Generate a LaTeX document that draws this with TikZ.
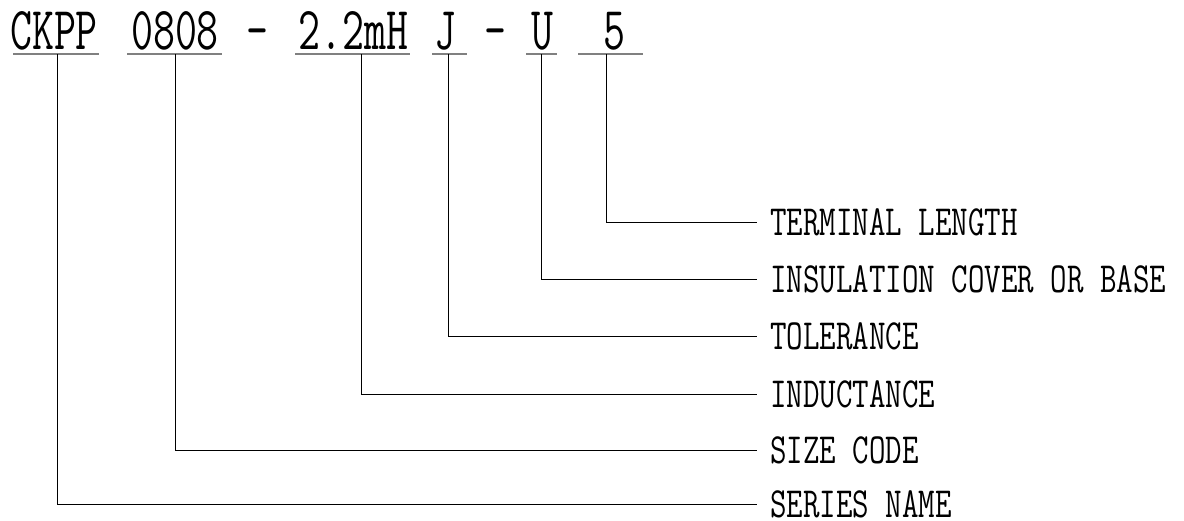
\documentclass[tikz,border=0pt]{standalone}
\usepackage{fontspec}
\newfontfamily\codefont{Latin Modern Mono}[FakeStretch=0.70]
\newfontfamily\namefont{Latin Modern Mono}[FakeStretch=0.745]
\usetikzlibrary{calc}
\usetikzlibrary{positioning}

\tikzset{
	codepart/.style={font=\codefont\fontsize{61}{61}\selectfont, inner sep=0pt, anchor=base},
	partname/.style={font=\namefont\fontsize{43}{43}\selectfont, anchor=west, inner xsep=13pt, inner ysep=0pt},
	underrule/.style={gray, line width=1.1pt},
	lead/.style={black, line width=0.8pt}
}

\begin{document}
\begin{tikzpicture}[x=1pt, y=-1pt]
		\useasboundingbox (0,0) rectangle (1184,520);

		% the part number
		\node[codepart] (ser) at (54,49) {CKPP};
		\node[codepart] (siz) at (175,49) {0808};
		\node[codepart] (dasha) at (257.5,49) {-};
		\node[codepart] (ind) at (353.5,49) {2.2mH};
		\node[codepart] (tol) at (445,49) {J};
		\node[codepart] (dashb) at (495,49) {-};
		\node[codepart] (ins) at (542.5,49) {U};
		\node[codepart] (ter) at (614,49) {5};

		\draw[underrule] (13,54) -- (99,54);
		\draw[underrule] (127,54) -- (222,54);
		\draw[underrule] (295,54) -- (410,54);
		\draw[underrule] (432,54) -- (467,54);
		\draw[underrule] (526,54) -- (557,54);
		\draw[underrule] (578,54) -- (643,54);

		\coordinate (ser-stem) at (57,54);
		\coordinate (siz-stem) at (175,54);
		\coordinate (ind-stem) at (361,54);
		\coordinate (tol-stem) at (448,54);
		\coordinate (ins-stem) at (541,54);
		\coordinate (ter-stem) at (606,54);

		% the names
		\node[partname] (ter-name) at (757,222) {TERMINAL LENGTH};
		\node[partname] (ins-name) at (757,279) {INSULATION COVER OR BASE};
		\node[partname] (tol-name) at (757,336.5) {TOLERANCE};
		\node[partname] (ind-name) at (757,394) {INDUCTANCE};
		\node[partname] (siz-name) at (757,450.5) {SIZE CODE};
		\node[partname] (ser-name) at (757,504) {SERIES NAME};

		\draw[lead] (ter-stem) |- (ter-name.west);
		\draw[lead] (ins-stem) |- (ins-name.west);
		\draw[lead] (tol-stem) |- (tol-name.west);
		\draw[lead] (ind-stem) |- (ind-name.west);
		\draw[lead] (siz-stem) |- (siz-name.west);
		\draw[lead] (ser-stem) |- (ser-name.west);
	\end{tikzpicture}
\end{document}
